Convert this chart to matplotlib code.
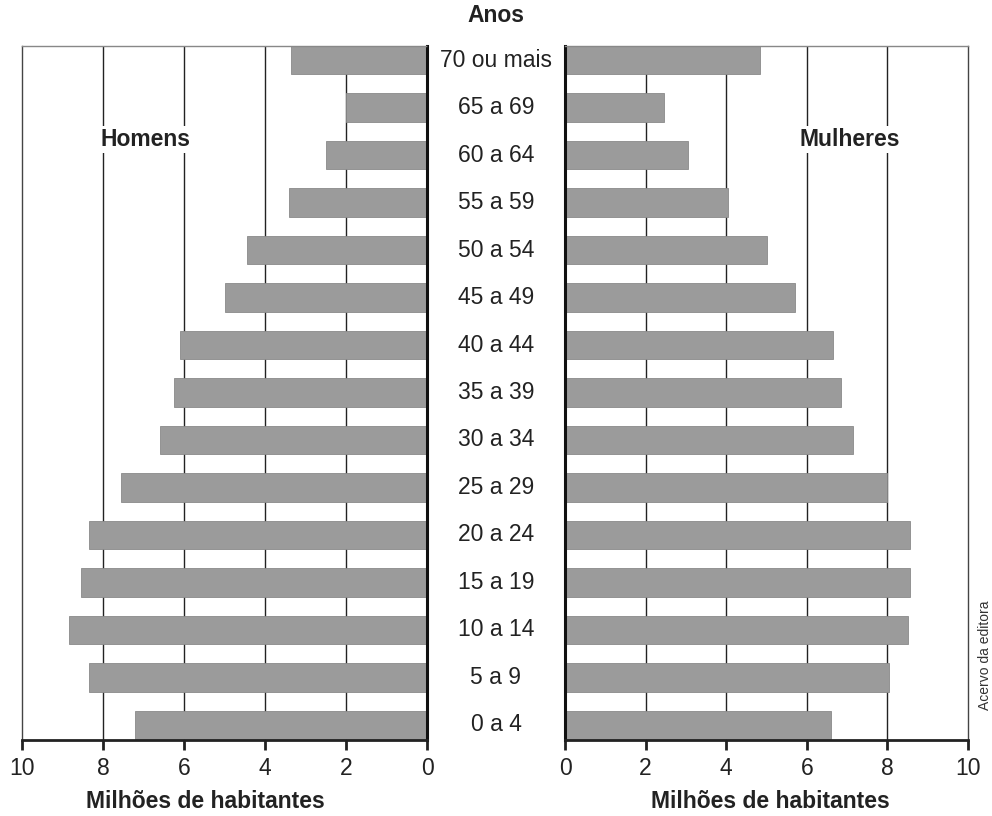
import matplotlib
matplotlib.use("Agg")
import matplotlib.pyplot as plt

ages = ["0 a 4", "5 a 9", "10 a 14", "15 a 19", "20 a 24", "25 a 29", "30 a 34",
        "35 a 39", "40 a 44", "45 a 49", "50 a 54", "55 a 59", "60 a 64", "65 a 69",
        "70 ou mais"]
homens = [7.2, 8.35, 8.85, 8.55, 8.35, 7.55, 6.6, 6.25, 6.1, 5.0, 4.45, 3.4, 2.5, 2.0, 3.35]
mulheres = [6.6, 8.05, 8.5, 8.55, 8.55, 8.0, 7.15, 6.85, 6.65, 5.7, 5.0, 4.05, 3.05, 2.45, 4.85]
ticks = [0, 2, 4, 6, 8, 10]

plt.rcParams['font.family'] = ['Liberation Sans', 'DejaVu Sans']
FS = 16.5

fig = plt.figure(figsize=(9.92, 8.16), dpi=100)
W, H = 992, 816
def rect(x0, x1, y0, y1):
    return [x0 / W, 1 - y1 / H, (x1 - x0) / W, (y1 - y0) / H]

axL = fig.add_axes(rect(22, 427, 46, 740))
axR = fig.add_axes(rect(565, 968, 46, 740))

ypos = list(range(len(ages)))
bar_col = '#9b9b9b'

for ax, vals, left in [(axL, homens, True), (axR, mulheres, False)]:
    ax.set_xlim(10, 0) if left else ax.set_xlim(0, 10)
    ax.set_ylim(-0.32, 14.3)
    for t in [2, 4, 6, 8]:
        ax.axvline(t, color='#222222', lw=1.0, zorder=1)
    ax.barh(ypos, vals, height=0.6, color=bar_col, edgecolor='#8a8a8a', lw=0.6, zorder=2)
    ax.set_yticks([])
    ax.set_xticks(ticks)
    ax.set_xticklabels([str(t) for t in ticks], fontsize=FS, color='#222222')
    ax.tick_params(axis='x', direction='out', length=7, width=2, color='#222222', pad=5)
    ax.spines['top'].set_linestyle((0, (3, 1)))
    ax.spines['top'].set_color('#888888')
    ax.spines['top'].set_linewidth(1.0)
    ax.spines['bottom'].set_linewidth(2.0)
    ax.spines['bottom'].set_color('#222222')
    if left:
        ax.spines['right'].set_linewidth(2.2)
        ax.spines['right'].set_color('#111111')
        ax.spines['left'].set_linewidth(1.0)
        ax.spines['left'].set_color('#444444')
    else:
        ax.spines['left'].set_linewidth(2.2)
        ax.spines['left'].set_color('#111111')
        ax.spines['right'].set_linewidth(1.0)
        ax.spines['right'].set_color('#444444')

fig.text(205 / W, 1 - 802 / H, "Milhões de habitantes", ha='center', va='center',
         fontsize=FS, fontweight='bold', color='#222222')
fig.text(770 / W, 1 - 802 / H, "Milhões de habitantes", ha='center', va='center',
         fontsize=FS, fontweight='bold', color='#222222')

axL.text(0.304, 0.865, "Homens", transform=axL.transAxes, ha='center', va='center',
         fontsize=FS, fontweight='bold', color='#222222',
         bbox=dict(facecolor='white', edgecolor='none', pad=1.5), zorder=5)
axR.text(0.707, 0.865, "Mulheres", transform=axR.transAxes, ha='center', va='center',
         fontsize=FS, fontweight='bold', color='#222222',
         bbox=dict(facecolor='white', edgecolor='none', pad=1.5), zorder=5)

# age labels in the middle
for i, a in enumerate(ages):
    yd = axL.transData.transform((0, i))[1]
    yf = yd / fig.bbox.height
    fig.text(496 / W, yf, a, ha='center', va='center', fontsize=FS, color='#222222')

fig.text(496 / W, 1 - 16 / H, "Anos", ha='center', va='center', fontsize=FS,
         fontweight='bold', color='#222222')
fig.text(985 / W, 1 - 655 / H, "Acervo da editora", ha='center', va='center',
         rotation=90, fontsize=10, color='#333333')

fig.savefig("out.png", dpi=100)
